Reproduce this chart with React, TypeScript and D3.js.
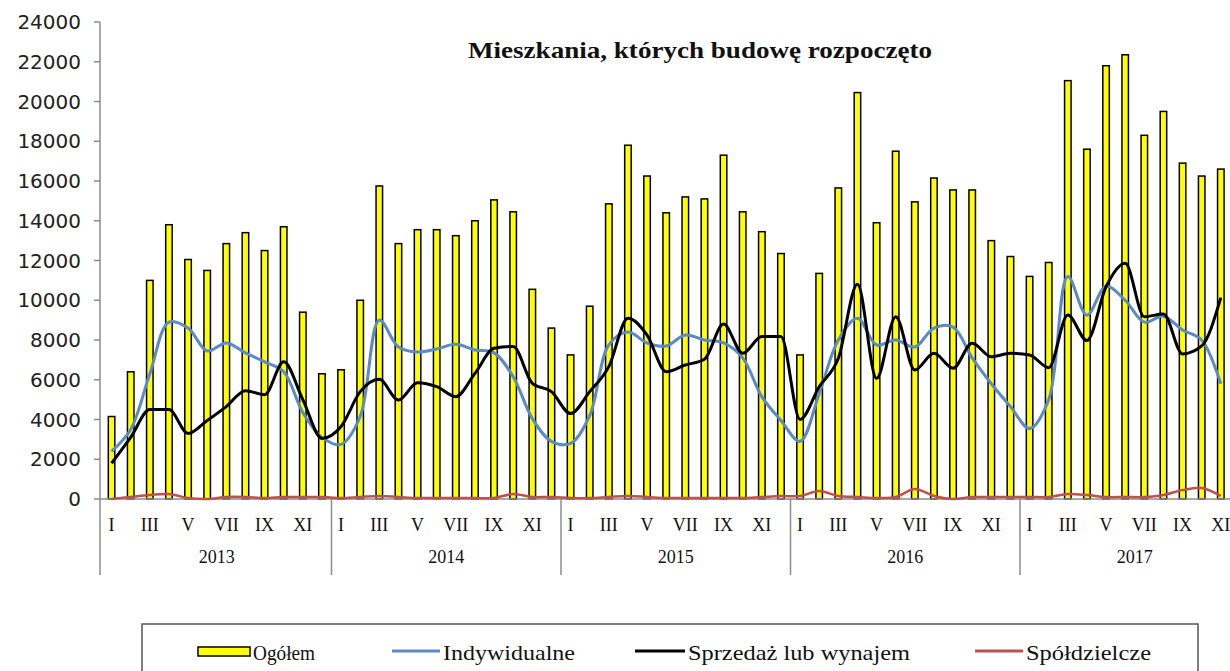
import React from "react";
import * as d3 from "d3";

const years = ["2013", "2014", "2015", "2016", "2017"];
const monthNames = ["I", "II", "III", "IV", "V", "VI", "VII", "VIII", "IX", "X", "XI", "XII"];
const yTicks = [0, 2000, 4000, 6000, 8000, 10000, 12000, 14000, 16000, 18000, 20000, 22000, 24000];

// Ogółem (bars) – 2013 I .. 2017 XI
const ogolem = [
  4150, 6400, 11000, 13800, 12050, 11500, 12850, 13400, 12500, 13700, 9400, 6300,
  6500, 10000, 15750, 12850, 13550, 13550, 13250, 14000, 15050, 14450, 10550, 8600,
  7250, 9700, 14850, 17800, 16250, 14400, 15200, 15100, 17300, 14450, 13450, 12350,
  7250, 11350, 15650, 20450, 13900, 17500, 14950, 16150, 15550, 15550, 13000, 12200,
  11200, 11900, 21050, 17600, 21800, 22350, 18300, 19500, 16900, 16250, 16600,
];
const indywidualne = [
  2400, 3500, 6300, 8900, 8600, 7450, 7850, 7350, 6900, 6400, 4350, 3100,
  2750, 4150, 9000, 7650, 7400, 7550, 7780, 7500, 7350, 6150, 4050, 2900,
  2800, 4200, 7750, 8400, 7850, 7700, 8250, 8000, 7850, 7100, 5150, 3950,
  2900, 5300, 8000, 9100, 7750, 8000, 7650, 8600, 8650, 7100, 5800, 4650,
  3550, 5000, 11200, 9250, 10700, 10000, 8900, 9200, 8500, 8000, 5800,
];
const sprzedaz = [
  1800, 3100, 4500, 4500, 3300, 3950, 4650, 5450, 5250, 6900, 5000, 3050,
  3650, 5400, 6020, 4980, 5850, 5650, 5150, 6320, 7580, 7670, 5820, 5400,
  4300, 5400, 6660, 9100, 8250, 6400, 6740, 7030, 8800, 7330, 8170, 8170,
  4000, 5650, 7080, 10800, 6070, 9170, 6490, 7330, 6580, 7840, 7160, 7330,
  7250, 6610, 9260, 7970, 10680, 11860, 9170, 9310, 7300, 7700, 10130,
];
const spoldzielcze = [
  0, 100, 200, 250, 50, 0, 100, 100, 50, 100, 100, 100,
  50, 100, 150, 100, 50, 50, 50, 50, 50, 250, 100, 100,
  50, 50, 100, 150, 100, 50, 50, 50, 50, 50, 100, 150,
  150, 400, 150, 100, 50, 100, 500, 150, 0, 100, 100, 100,
  100, 100, 250, 200, 100, 100, 100, 200, 450, 550, 150,
];

const legendItems = [
  { label: "Ogółem", kind: "bar", color: "#FFFF00", x0: 198, x1: 250, tw: 62 },
  { label: "Indywidualne", kind: "line", color: "#5B8AC6", x0: 392, x1: 440, tw: 132 },
  { label: "Sprzedaż lub wynajem", kind: "line", color: "#000000", x0: 635, x1: 685, tw: 222 },
  { label: "Spółdzielcze", kind: "line", color: "#C0504D", x0: 975, x1: 1023, tw: 125 },
];

export default function App() {
  const W = 1230;
  const H = 671;
  const months: string[] = [];
  years.forEach((y) => monthNames.forEach((m) => months.push(`${y}-${m}`)));

  const x = d3.scaleBand<string>().domain(months).range([102, 102 + 60 * 19.125]).padding(0);
  const y = d3.scaleLinear().domain([0, 24000]).range([499, 22]);
  const cx = (i: number) => (x(months[i]) as number) + x.bandwidth() / 2;

  const lineGen = (vals: number[], curve: d3.CurveFactory) =>
    d3
      .line<number>()
      .x((_, i) => cx(i))
      .y((v) => y(v))
      .curve(curve)(vals) as string;

  const barW = 6.5;
  const axisColor = "#8c8c8c";
  const yearW = 12 * x.bandwidth();

  return (
    <svg width={W} height={H} style={{ position: "absolute", left: 0, top: 0, background: "#fff" }}>
      <rect x={0} y={0} width={W} height={H} fill="#fff" />
      {/* title */}
      <text
        x={700}
        y={58}
        textAnchor="middle"
        fontFamily="'Liberation Serif', serif"
        fontWeight="bold"
        fontSize={24}
        textLength={464}
        lengthAdjust="spacingAndGlyphs"
        fill="#111"
      >
        Mieszkania, których budowę rozpoczęto
      </text>

      {/* y axis */}
      <line x1={100} x2={100} y1={y(24000)} y2={575} stroke={axisColor} strokeWidth={1.5} />
      {yTicks.map((t) => (
        <g key={t}>
          <line x1={94} x2={100} y1={y(t)} y2={y(t)} stroke={axisColor} strokeWidth={1.5} />
          <text
            x={81}
            y={y(t)}
            dy="0.36em"
            textAnchor="end"
            fontFamily="'DejaVu Sans', sans-serif"
            fontSize={20}
            fill="#222"
          >
            {t}
          </text>
        </g>
      ))}

      {/* bars */}
      {ogolem.map((v, i) => (
        <rect
          key={i}
          x={cx(i) - barW / 2}
          y={y(v)}
          width={barW}
          height={y(0) - y(v)}
          fill="#FFFF00"
          stroke="#000"
          strokeWidth={1.5}
        />
      ))}

      {/* x axis */}
      <line x1={100} x2={W} y1={y(0)} y2={y(0)} stroke={axisColor} strokeWidth={1.5} />
      {years.map((yr, k) => {
        const left = x(`${yr}-I`) as number;
        return (
          <g key={yr}>
            {k > 0 && <line x1={left} x2={left} y1={y(0)} y2={575} stroke={axisColor} strokeWidth={1.5} />}
            <text
              x={left + yearW / 2}
              y={563}
              textAnchor="middle"
              fontFamily="'Liberation Serif', serif"
              fontSize={18}
              fill="#111"
            >
              {yr}
            </text>
          </g>
        );
      })}
      {months.map((m, i) =>
        i % 2 === 0 ? (
          <text
            key={m}
            x={cx(i)}
            y={531}
            textAnchor="middle"
            fontFamily="'Liberation Serif', serif"
            fontSize={18}
            fill="#111"
          >
            {monthNames[i % 12]}
          </text>
        ) : null
      )}

      {/* lines */}
      <path d={lineGen(spoldzielcze, d3.curveCatmullRom.alpha(0.5))} fill="none" stroke="#C0504D" strokeWidth={2.5} strokeLinejoin="round" />
      <path d={lineGen(indywidualne, d3.curveCatmullRom.alpha(0.5))} fill="none" stroke="#5B8AC6" strokeWidth={3} strokeLinejoin="round" />
      <path d={lineGen(sprzedaz, d3.curveMonotoneX)} fill="none" stroke="#000" strokeWidth={3} strokeLinejoin="round" />

      {/* legend */}
      <rect x={142} y={624} width={1056} height={60} fill="#fff" stroke="#555" strokeWidth={1.5} />
      {legendItems.map((it) => (
        <g key={it.label}>
          {it.kind === "bar" ? (
            <rect x={it.x0} y={647} width={it.x1 - it.x0} height={9} fill={it.color} stroke="#000" strokeWidth={1.5} />
          ) : (
            <line x1={it.x0} x2={it.x1} y1={651} y2={651} stroke={it.color} strokeWidth={3} />
          )}
          <text
            x={it.x1 + 3}
            y={660}
            fontFamily="'Liberation Serif', serif"
            fontSize={21}
            textLength={it.tw}
            lengthAdjust="spacingAndGlyphs"
            fill="#111"
          >
            {it.label}
          </text>
        </g>
      ))}
    </svg>
  );
}
